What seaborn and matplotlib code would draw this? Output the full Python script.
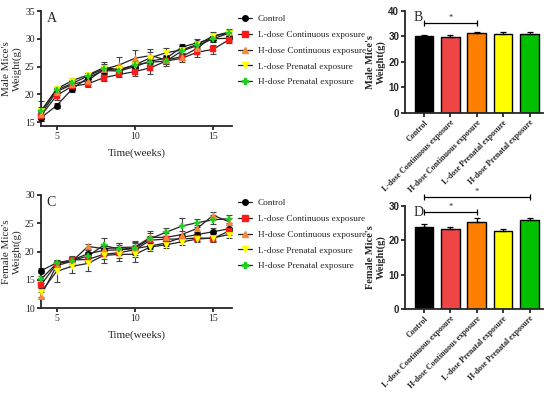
import matplotlib
matplotlib.use("Agg")
import matplotlib.pyplot as plt
from matplotlib.lines import Line2D
import pandas as pd
import seaborn as sns

weeks = list(range(4, 17))
groups = ["Control", "L-dose Continuous exposure", "H-dose Continuous exposure",
          "L-dose Prenatal exposure", "H-dose Prenatal exposure"]
colors = ["#000000", "#ff1a1a", "#f58a3c", "#ffff00", "#22cc22"]
bar_colors = ["#000000", "#f04545", "#ff8000", "#ffff00", "#00c000"]
markers = ["o", "s", "^", "v", "P"]

male_mean = {
    "Control": [15.8, 18.0, 21.0, 23.0, 24.3, 24.2, 25.0, 26.0, 26.5, 28.5, 29.3, 30.0, 30.1],
    "L-dose Continuous exposure": [16.2, 19.8, 21.5, 21.9, 23.0, 23.6, 24.1, 24.8, 26.0, 26.5, 27.6, 28.1, 29.8],
    "H-dose Continuous exposure": [16.5, 20.5, 21.8, 22.5, 24.5, 25.3, 26.5, 27.0, 26.2, 26.8, 28.3, 30.5, 31.2],
    "L-dose Prenatal exposure": [17.0, 21.0, 22.5, 23.5, 24.8, 24.5, 25.3, 26.6, 27.5, 28.0, 29.0, 30.5, 31.0],
    "H-dose Prenatal exposure": [17.0, 20.8, 22.0, 23.3, 24.6, 24.3, 25.3, 25.8, 26.0, 27.8, 28.8, 30.0, 31.0],
}
male_err = {
    "Control": [0.5, 0.5, 0.6, 0.5, 0.6, 0.6, 0.6, 0.6, 0.6, 0.6, 0.6, 0.5, 0.5],
    "L-dose Continuous exposure": [0.6, 0.8, 0.7, 0.5, 0.5, 0.5, 0.8, 1.2, 0.6, 0.6, 0.9, 0.8, 0.6],
    "H-dose Continuous exposure": [0.8, 0.6, 0.5, 0.6, 0.8, 1.4, 1.5, 1.1, 0.8, 0.6, 0.9, 0.7, 0.5],
    "L-dose Prenatal exposure": [1.8, 0.4, 0.4, 0.4, 1.0, 0.6, 0.6, 1.0, 0.8, 0.6, 0.6, 0.6, 0.5],
    "H-dose Prenatal exposure": [0.8, 0.4, 0.6, 0.5, 0.8, 0.6, 0.8, 0.7, 0.8, 0.6, 0.6, 0.5, 0.5],
}
female_mean = {
    "Control": [16.6, 18.0, 18.5, 19.6, 20.2, 20.3, 20.5, 21.0, 21.5, 22.5, 23.0, 23.5, 24.0],
    "L-dose Continuous exposure": [14.1, 17.8, 18.5, 18.6, 19.5, 19.8, 20.3, 22.0, 22.2, 22.2, 22.4, 22.3, 23.6],
    "H-dose Continuous exposure": [12.2, 17.5, 18.3, 20.9, 20.5, 20.7, 20.8, 22.5, 22.5, 23.0, 24.1, 26.4, 25.3],
    "L-dose Prenatal exposure": [12.8, 16.5, 17.4, 17.9, 19.3, 19.5, 19.5, 20.8, 21.2, 21.7, 22.2, 22.4, 23.0],
    "H-dose Prenatal exposure": [15.1, 17.9, 18.4, 19.2, 21.1, 20.4, 20.6, 22.3, 23.4, 24.5, 25.1, 25.6, 25.8],
}
female_err = {
    "Control": [0.4, 0.5, 0.6, 0.6, 0.8, 0.8, 0.7, 0.6, 0.5, 0.5, 0.5, 0.6, 0.6],
    "L-dose Continuous exposure": [0.8, 0.6, 0.7, 0.5, 0.9, 1.0, 1.2, 0.8, 0.6, 0.5, 0.5, 0.6, 0.6],
    "H-dose Continuous exposure": [0.6, 0.7, 0.8, 0.4, 0.8, 0.8, 0.8, 0.8, 0.8, 0.7, 0.6, 0.6, 0.6],
    "L-dose Prenatal exposure": [0.8, 1.8, 1.2, 1.4, 1.3, 1.2, 1.3, 0.7, 0.6, 0.6, 0.6, 0.6, 0.6],
    "H-dose Prenatal exposure": [0.6, 0.5, 0.6, 0.7, 1.3, 1.1, 1.2, 1.4, 0.7, 1.4, 0.7, 0.8, 0.7],
}
male_final = [30.0, 29.8, 31.2, 31.0, 31.0]
male_final_err = [0.7, 0.8, 0.5, 0.8, 0.9]
female_final = [24.0, 23.4, 25.4, 22.8, 25.8]
female_final_err = [0.8, 0.6, 1.2, 0.6, 0.7]

sns.set_theme(style="ticks")
serif = "Liberation Serif"
sans = "Liberation Sans"
plt.rcParams["font.family"] = [serif, "DejaVu Sans"]
plt.rcParams["axes.linewidth"] = 1.3
plt.rcParams["xtick.major.width"] = 1.3
plt.rcParams["ytick.major.width"] = 1.3
plt.rcParams["xtick.major.size"] = 3
plt.rcParams["ytick.major.size"] = 3

fig = plt.figure(figsize=(5.5, 3.93), dpi=100)
axA = fig.add_axes([0.0745, 0.679, 0.347, 0.293])
axC = fig.add_axes([0.0745, 0.216, 0.347, 0.288])
axB = fig.add_axes([0.736, 0.7125, 0.251, 0.2595])
axD = fig.add_axes([0.736, 0.2137, 0.251, 0.2623])


def line_panel(ax, means, errs, ylim, yticks, ylabel, letter):
    rows = []
    for g in groups:
        for w, m in zip(weeks, means[g]):
            rows.append({"week": w, "weight": m, "group": g})
    df = pd.DataFrame(rows)
    for g in groups:
        ax.errorbar(weeks, means[g], yerr=errs[g], fmt="none", ecolor="#444444",
                    elinewidth=0.8, capsize=2, capthick=0.8, zorder=2, clip_on=False)
    sns.lineplot(data=df, x="week", y="weight", hue="group",
                 palette=["#222222"] * 5, markers=False,
                 linewidth=0.9, legend=False, ax=ax, zorder=3)
    for g, c, mk in zip(groups, colors, markers):
        ax.scatter(weeks, means[g], color=c, marker=mk, s=22, zorder=4,
                   edgecolors=c, linewidths=0.3, clip_on=False)
    ax.set_xlim(4, 16.2)
    ax.set_ylim(*ylim)
    ax.set_xticks([5, 10, 15])
    ax.set_yticks(yticks)
    ax.tick_params(labelsize=7, pad=1.5)
    for lab in ax.get_xticklabels() + ax.get_yticklabels():
        lab.set_fontfamily(serif)
    sns.despine(ax=ax)
    ax.set_xlabel("Time(weeks)", fontsize=8, labelpad=5)
    ax.set_ylabel(ylabel, fontsize=8, labelpad=2)
    ax.text(0.03, 0.99, letter, transform=ax.transAxes, fontsize=10, va="top")
    handles = [Line2D([0], [0], color="#222222", lw=0.9, marker=mk,
                      markerfacecolor=c, markeredgecolor=c, markersize=4)
               for c, mk in zip(colors, markers)]
    ax.legend(handles, groups, loc="upper left", bbox_to_anchor=(0.99, 1.04),
              frameon=False, fontsize=6.7, handlelength=1.5, handletextpad=0.6,
              labelspacing=0.78, borderaxespad=0.5)


def bar_panel(ax, values, errs, ylim, yticks, ylabel, letter, brackets):
    df = pd.DataFrame({"group": groups, "weight": values})
    sns.barplot(data=df, x="group", y="weight", hue="group", palette=bar_colors,
                saturation=1, edgecolor="black", linewidth=1.0, width=0.7,
                legend=False, ax=ax)
    ax.errorbar(range(5), values, yerr=[[0] * 5, errs], fmt="none", ecolor="black",
                elinewidth=0.9, capsize=2.5, capthick=0.9)
    ax.set_xlim(-0.72, 4.5)
    ax.set_ylim(*ylim)
    ax.set_yticks(yticks)
    ax.set_xlabel("")
    ax.set_ylabel(ylabel, fontsize=7.5, fontweight="bold", labelpad=2)
    ax.tick_params(axis="y", labelsize=7, pad=1)
    ax.tick_params(axis="x", labelsize=5.8, pad=1)
    for lab in ax.get_yticklabels():
        lab.set_fontfamily(sans)
        lab.set_fontweight("bold")
    ax.set_xticks(range(5))
    ax.set_xticklabels(groups, rotation=45, ha="right", rotation_mode="anchor",
                       fontweight="bold", fontfamily=serif)
    sns.despine(ax=ax)
    ax.text(0.06, 1.0, letter, transform=ax.transAxes, fontsize=10, va="top")
    for x0, x1, yv, star_y in brackets:
        ax.plot([x0, x1], [yv, yv], color="black", lw=0.9, marker="|",
                markersize=5, markeredgewidth=0.9, clip_on=False)
        ax.text((x0 + x1) / 2, star_y, "*", ha="center", va="center", fontsize=6)


line_panel(axA, male_mean, male_err, (14.3, 35), [15, 20, 25, 30, 35],
           "Male Mice's\nWeight(g)", "A")
line_panel(axC, female_mean, female_err, (10, 30), [10, 15, 20, 25, 30],
           "Female Mice's\nWeight(g)", "C")
bar_panel(axB, male_final, male_final_err, (0, 40), [0, 10, 20, 30, 40],
          "Male Mice's\nWeight(g)", "B", [(0, 2, 35.4, 37.2)])
bar_panel(axD, female_final, female_final_err, (0, 30), [0, 10, 20, 30],
          "Female Mice's\nWeight(g)", "D", [(0, 4, 32.5, 34.0), (0, 2, 28.3, 29.8)])

fig.savefig("out.png", dpi=100)
